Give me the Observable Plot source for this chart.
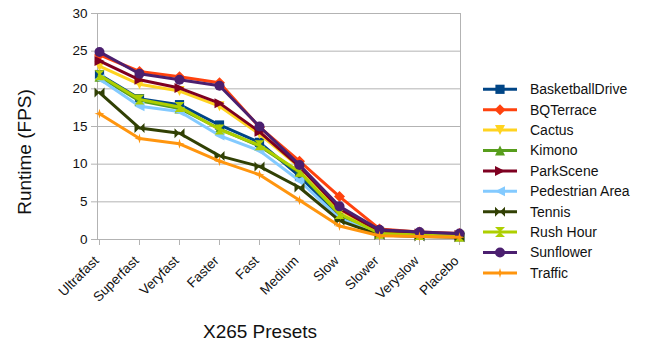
<!DOCTYPE html>
<html>
<head>
<meta charset="utf-8">
<script src="https://cdn.jsdelivr.net/npm/d3@7"></script>
<script src="https://cdn.jsdelivr.net/npm/@observablehq/plot@0.6"></script>
<style>
  body { margin: 0; background: #fff; }
  #chart { width: 651px; height: 348px; font-family: "Liberation Sans", Arial, sans-serif; }
  #chart svg { display: block; }
</style>
</head>
<body>
<div id="chart"></div>
<script>
// x265 encoding presets, fastest to slowest
const presets = ["Ultrafast", "Superfast", "Veryfast", "Faster", "Fast", "Medium", "Slow", "Slower", "Veryslow", "Placebo"];
const yTicks = [0, 5, 10, 15, 20, 25, 30];

const seriesNames = ["BasketballDrive", "BQTerrace", "Cactus", "Kimono", "ParkScene", "Pedestrian Area", "Tennis", "Rush Hour", "Sunflower", "Traffic"];

// Runtime in frames per second, one value per preset
const basketballDrive = [21.9, 18.7, 17.9, 15.2, 12.9, 8.4, 3.2, 0.9, 0.6, 0.4];
const bqTerrace       = [24.5, 22.3, 21.6, 20.8, 14.9, 10.4, 5.7, 1.4, 1.0, 0.8];
const cactus          = [23.0, 20.6, 19.7, 17.7, 14.0, 9.6, 3.9, 1.0, 0.7, 0.5];
const kimono          = [21.6, 18.4, 17.4, 14.7, 12.4, 8.9, 3.3, 0.8, 0.6, 0.4];
const parkScene       = [23.7, 21.2, 20.1, 18.1, 14.3, 9.7, 4.1, 1.1, 0.8, 0.6];
const pedestrianArea  = [21.3, 17.7, 17.0, 13.8, 11.8, 7.8, 2.8, 0.7, 0.5, 0.4];
const tennis          = [19.5, 14.8, 14.1, 11.1, 9.7, 6.9, 2.5, 0.6, 0.4, 0.3];
const rushHour        = [21.8, 18.6, 17.6, 14.6, 12.5, 9.0, 3.4, 0.8, 0.6, 0.4];
const sunflower       = [24.9, 22.0, 21.2, 20.4, 15.0, 9.9, 4.4, 1.3, 1.0, 0.8];
const traffic         = [16.7, 13.4, 12.7, 10.4, 8.6, 5.2, 1.8, 0.5, 0.4, 0.3];

const seriesValues = [basketballDrive, bqTerrace, cactus, kimono, parkScene, pedestrianArea, tennis, rushHour, sunflower, traffic];
const seriesColors = ["#004586", "#ff420e", "#ffd320", "#579d1c", "#7e0021", "#83caff", "#314004", "#aecf00", "#4b1f6f", "#ff950e"];
const seriesSymbols = ["square", "diamond", "down", "up", "right", "left", "bowtie", "hourglass", "circle", "star"];

// Marker shapes, drawn around the origin; r is the half-extent of the marker
function poly(ctx, pts) {
  ctx.moveTo(pts[0][0], pts[0][1]);
  for (let i = 1; i < pts.length; i++) ctx.lineTo(pts[i][0], pts[i][1]);
  ctx.closePath();
}
const shapes = {
  square: r => ctx => { const s = r * 0.92; poly(ctx, [[-s, -s], [s, -s], [s, s], [-s, s]]); },
  diamond: r => ctx => { const s = r * 1.1; poly(ctx, [[0, -s], [s, 0], [0, s], [-s, 0]]); },
  down: r => ctx => poly(ctx, [[-r, -r], [r, -r], [0, r]]),
  up: r => ctx => poly(ctx, [[-r, r], [r, r], [0, -r]]),
  right: r => ctx => poly(ctx, [[-r, -r], [r, 0], [-r, r]]),
  left: r => ctx => poly(ctx, [[r, -r], [-r, 0], [r, r]]),
  bowtie: r => ctx => { poly(ctx, [[-r, -r], [0, 0], [-r, r]]); poly(ctx, [[r, -r], [0, 0], [r, r]]); },
  hourglass: r => ctx => { poly(ctx, [[-r, -r], [r, -r], [0, 0]]); poly(ctx, [[-r, r], [r, r], [0, 0]]); },
  circle: r => ctx => { ctx.moveTo(r, 0); ctx.arc(0, 0, r, 0, 2 * Math.PI); ctx.closePath(); },
  star: r => ctx => { const a = r * 0.22; poly(ctx, [[0, -r], [a, -a], [r, 0], [a, a], [0, r], [-a, a], [-r, 0], [-a, -a]]); }
};
const symbolObject = name => ({
  draw(ctx, size) { shapes[name](Math.sqrt(size / Math.PI))(ctx); }
});

const rows = seriesNames.map((name, i) => presets.map((p, j) => ({series: name, preset: p, fps: seriesValues[i][j]})));

const marks = [
  Plot.gridY(yTicks, {stroke: "#b3b3b3", strokeOpacity: 1}),
  Plot.frame({stroke: "#b3b3b3"}),
  Plot.axisY(yTicks, {tickSize: 6, tickPadding: 4, stroke: "#b3b3b3", fill: "#111", label: null, fontSize: 13.5}),
  // tick marks and rotated preset labels are drawn as two layers
  Plot.axisX({tickSize: 6, stroke: "#b3b3b3", text: null, label: null}),
  Plot.axisX({tickSize: 0, tickPadding: 12, tickRotate: -45, dx: -3, dy: 7, fill: "#111", label: null, fontSize: 13.5})
];
rows.forEach((data, i) => {
  marks.push(Plot.line(data, {x: "preset", y: "fps", stroke: seriesColors[i], strokeWidth: 3, strokeLinejoin: "round"}));
  marks.push(Plot.dot(data, {x: "preset", y: "fps", fill: seriesColors[i], symbol: symbolObject(seriesSymbols[i]), r: 5}));
});

const chart = Plot.plot({
  width: 651,
  height: 348,
  marginLeft: 97,
  marginRight: 191,
  marginTop: 13,
  marginBottom: 109,
  style: {fontFamily: "Liberation Sans, Arial, sans-serif", background: "#fff"},
  x: {type: "point", domain: presets, padding: 0},
  y: {domain: [0, 30]},
  marks
});

// Axis titles and legend
const svg = d3.select(chart);
svg.append("text")
  .attr("transform", "translate(31,152) rotate(-90)")
  .attr("text-anchor", "middle")
  .attr("font-size", 19)
  .attr("fill", "#111")
  .text("Runtime (FPS)");
svg.append("text")
  .attr("x", 260).attr("y", 338)
  .attr("text-anchor", "middle")
  .attr("font-size", 19)
  .attr("fill", "#111")
  .text("X265 Presets");

const legend = svg.append("g").attr("transform", "translate(483,89.3)").attr("text-anchor", "start");
seriesNames.forEach((name, i) => {
  const g = legend.append("g").attr("transform", `translate(0,${i * 20.4})`);
  g.append("line").attr("x1", 0).attr("x2", 34).attr("y1", 0).attr("y2", 0)
    .attr("stroke", seriesColors[i]).attr("stroke-width", 3);
  const p = d3.path();
  shapes[seriesSymbols[i]](5)(p);
  g.append("path").attr("d", p.toString()).attr("transform", "translate(17,0)").attr("fill", seriesColors[i]);
  g.append("text").attr("x", 47).attr("y", 0).attr("dy", "0.35em")
    .attr("text-anchor", "start")
    .attr("font-size", 14).attr("fill", "#111").text(name);
});

document.getElementById("chart").append(chart);
</script>
</body>
</html>
